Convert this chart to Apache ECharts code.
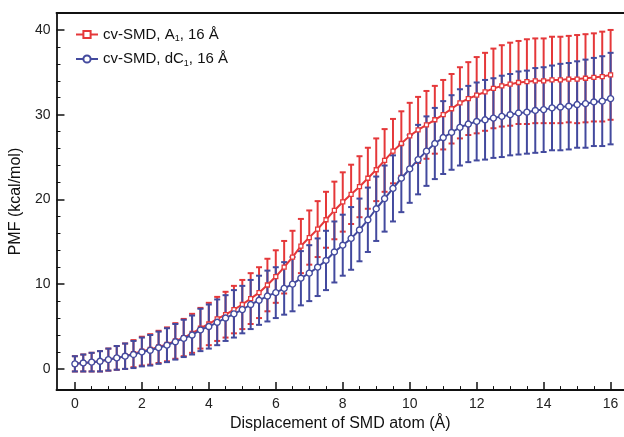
<!DOCTYPE html>
<html>
<head>
<meta charset="utf-8">
<script src="https://cdn.jsdelivr.net/npm/echarts@6/dist/echarts.min.js"></script>
<style>html,body{margin:0;padding:0;background:#fff}#c{width:624px;height:437px}</style>
</head>
<body>
<div id="c"></div>
<script>
// Displacement (Å)
const xValues = [0,0.25,0.5,0.75,1,1.25,1.5,1.75,2,2.25,2.5,2.75,3,3.25,3.5,3.75,4,4.25,4.5,4.75,5,5.25,5.5,5.75,6,6.25,6.5,6.75,7,7.25,7.5,7.75,8,8.25,8.5,8.75,9,9.25,9.5,9.75,10,10.25,10.5,10.75,11,11.25,11.5,11.75,12,12.25,12.5,12.75,13,13.25,13.5,13.75,14,14.25,14.5,14.75,15,15.25,15.5,15.75,16];
// cv-SMD, A1 mean PMF and error
const redMean = [0.6,0.7,0.8,0.9,1.1,1.3,1.5,1.8,2.1,2.3,2.6,2.9,3.3,3.7,4.2,4.8,5.3,5.9,6.4,7.0,7.6,8.3,9.0,9.9,10.9,12.0,13.2,14.5,15.5,16.5,17.6,18.7,19.7,20.6,21.5,22.5,23.5,24.6,25.7,26.6,27.5,28.2,28.8,29.4,30.0,30.7,31.4,31.9,32.3,32.7,33.1,33.4,33.6,33.8,33.9,34.0,34.0,34.1,34.1,34.2,34.2,34.3,34.4,34.5,34.7];
const redErr = [0.9,1.0,1.1,1.2,1.3,1.4,1.5,1.6,1.7,1.8,1.9,2.0,2.1,2.2,2.3,2.4,2.5,2.6,2.7,2.8,2.9,3.0,3.0,3.1,3.1,3.1,3.1,3.2,3.2,3.3,3.3,3.4,3.5,3.5,3.6,3.6,3.7,3.7,3.8,3.8,3.9,3.9,4.0,4.0,4.1,4.1,4.2,4.3,4.5,4.6,4.7,4.8,4.9,4.9,5.0,5.0,5.0,5.1,5.1,5.1,5.2,5.2,5.2,5.3,5.3];
// cv-SMD, dC1 mean PMF and error
const blueMean = [0.6,0.7,0.8,0.9,1.1,1.3,1.5,1.7,2.0,2.2,2.5,2.8,3.2,3.6,4.0,4.6,5.0,5.5,6.0,6.5,7.0,7.6,8.1,8.6,9.0,9.5,10.0,10.7,11.3,12.0,12.8,13.8,14.6,15.4,16.4,17.6,18.9,20.1,21.3,22.5,23.6,24.7,25.7,26.6,27.3,27.9,28.5,28.9,29.2,29.4,29.6,29.8,30.0,30.2,30.3,30.5,30.6,30.8,30.9,31.0,31.2,31.3,31.5,31.6,31.9];
const blueErr = [0.9,1.0,1.1,1.2,1.3,1.4,1.5,1.6,1.7,1.8,1.9,2.0,2.1,2.2,2.3,2.5,2.6,2.7,2.7,2.8,2.8,2.9,2.9,3.0,3.0,3.1,3.2,3.2,3.3,3.4,3.5,3.6,3.6,3.7,3.7,3.8,3.8,3.9,3.9,4.0,4.0,4.1,4.1,4.2,4.3,4.4,4.5,4.5,4.6,4.7,4.7,4.8,4.8,4.9,4.9,5.0,5.0,5.0,5.1,5.1,5.1,5.2,5.2,5.3,5.4];
// tick labels
const xTicks = [0,2,4,6,8,10,12,14,16];
const xMinorTicks = [0.5,1,1.5,2.5,3,3.5,4.5,5,5.5,6.5,7,7.5,8.5,9,9.5,10.5,11,11.5,12.5,13,13.5,14.5,15,15.5];
const yTicks = [0,10,20,30,40];
const yMinorTicks = [2,4,6,8,12,14,16,18,22,24,26,28,32,34,36,38];
const seriesNames = ['cv-SMD, A1, 16 Å','cv-SMD, dC1, 16 Å'];

const RED = '#e5383a', BLUE = '#434a9e';
const FONT = 'Liberation Sans';

function errData(mean, err){ return xValues.map((x,i)=>[x, mean[i]-err[i], mean[i]+err[i]]); }
function lineData(mean){ return xValues.map((x,i)=>[x, mean[i]]); }
function errRender(color){
  return function(params, api){
    const x = api.value(0);
    const lo = api.coord([x, api.value(1)]);
    const hi = api.coord([x, api.value(2)]);
    const hw = 3;
    const st = {stroke: color, lineWidth: 2};
    return {type:'group', children:[
      {type:'line', shape:{x1:hi[0],y1:hi[1],x2:lo[0],y2:lo[1]}, style:st},
      {type:'line', shape:{x1:hi[0]-hw,y1:hi[1],x2:hi[0]+hw,y2:hi[1]}, style:st},
      {type:'line', shape:{x1:lo[0]-hw,y1:lo[1],x2:lo[0]+hw,y2:lo[1]}, style:st}
    ]};
  };
}

const chart = echarts.init(document.getElementById('c'), null, {renderer:'canvas'});
const axisLineStyle = {color:'#111', width:1.8};
const xMin = -0.55, xMax = 16.4, yMin = -2.5, yMax = 42;
chart.setOption({
  animation:false,
  backgroundColor:'#fff',
  textStyle:{fontFamily:FONT},
  grid:{left:55, top:13, right:0, bottom:39, containLabel:false},
  legend:{
    left:70, top:22, orient:'vertical', itemWidth:22, itemHeight:9, itemGap:8,
    data:seriesNames,
    formatter:function(n){
      return n.indexOf('dC1')>=0 ? '{a|cv-SMD, dC}{s|1}{a|, 16 Å}' : '{a|cv-SMD, A}{s|1}{a|, 16 Å}';
    },
    textStyle:{fontFamily:FONT, color:'#111', rich:{
      a:{fontSize:15, fontFamily:FONT, color:'#111', lineHeight:18, verticalAlign:'middle'},
      s:{fontSize:9, fontFamily:FONT, color:'#111', lineHeight:9, verticalAlign:'bottom'}
    }}
  },
  xAxis:[
    {type:'value', position:'bottom', min:xMin, max:xMax,
     axisLine:{show:true, onZero:false, lineStyle:axisLineStyle},
     axisTick:{show:true, inside:true, length:8, customValues:xTicks, lineStyle:{color:'#111', width:1.5}},
     axisLabel:{show:true, customValues:xTicks, fontSize:14, color:'#222', margin:7, fontFamily:FONT},
     splitLine:{show:false},
     name:'Displacement of SMD atom (Å)', nameLocation:'middle', nameGap:19,
     nameTextStyle:{fontSize:16, color:'#111', fontFamily:FONT}},
    {type:'value', position:'bottom', min:xMin, max:xMax,
     axisLine:{show:false, onZero:false},
     axisTick:{show:true, inside:true, length:4, customValues:xMinorTicks, lineStyle:{color:'#111', width:1}},
     axisLabel:{show:false}, splitLine:{show:false}},
    {type:'value', position:'top', min:xMin, max:xMax,
     axisLine:{show:true, onZero:false, lineStyle:axisLineStyle},
     axisTick:{show:false}, axisLabel:{show:false}, splitLine:{show:false}}
  ],
  yAxis:[
    {type:'value', position:'left', min:yMin, max:yMax,
     axisLine:{show:true, onZero:false, lineStyle:axisLineStyle},
     axisTick:{show:true, inside:true, length:8, customValues:yTicks, lineStyle:{color:'#111', width:1.5}},
     axisLabel:{show:true, customValues:yTicks, fontSize:14, color:'#222', margin:6, fontFamily:FONT},
     splitLine:{show:false},
     name:'PMF (kcal/mol)', nameLocation:'middle', nameGap:27,
     nameTextStyle:{fontSize:16, color:'#111', fontFamily:FONT}},
    {type:'value', position:'left', min:yMin, max:yMax,
     axisLine:{show:false, onZero:false},
     axisTick:{show:true, inside:true, length:4, customValues:yMinorTicks, lineStyle:{color:'#111', width:1}},
     axisLabel:{show:false}, splitLine:{show:false}}
  ],
  series:[
    {type:'custom', name:'redErr', renderItem:errRender(RED), data:errData(redMean, redErr),
     encode:{x:0, y:[1,2]}, z:1, silent:true},
    {type:'custom', name:'blueErr', renderItem:errRender(BLUE), data:errData(blueMean, blueErr),
     encode:{x:0, y:[1,2]}, z:2, silent:true},
    {type:'line', name:seriesNames[0], data:lineData(redMean), z:3,
     symbol:'rect', symbolSize:4, showAllSymbol:true,
     lineStyle:{color:RED, width:2}, itemStyle:{color:'#fff', borderColor:RED, borderWidth:1.3}},
    {type:'line', name:seriesNames[1], data:lineData(blueMean), z:4,
     symbol:'circle', symbolSize:6, showAllSymbol:true,
     lineStyle:{color:BLUE, width:2}, itemStyle:{color:'#fff', borderColor:BLUE, borderWidth:1.4}}
  ]
});
</script>
</body>
</html>
